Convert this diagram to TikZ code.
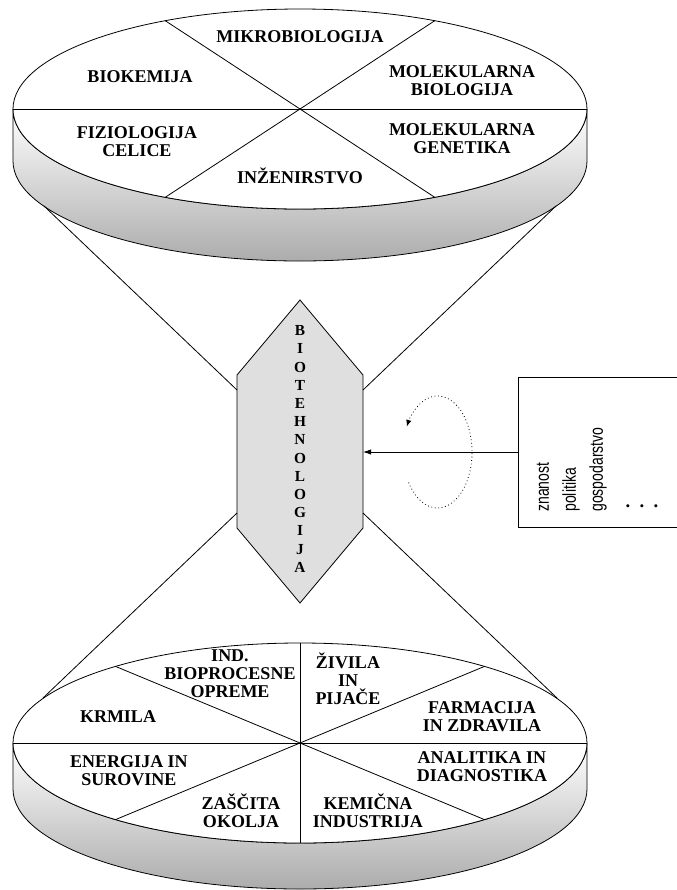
\documentclass[tikz,border=0pt]{standalone}
\usepackage{fontspec}
\setmainfont{Liberation Serif}
\newfontfamily\narrowsans[FakeStretch=0.75]{Liberation Sans}
\usepackage{tikz}
\usetikzlibrary{arrows.meta}

\tikzset{
  disclabel/.style={font=\fontsize{13.5}{13.5}\selectfont\bfseries,align=center,inner sep=0pt},
  sidetext/.style={font=\narrowsans\fontsize{14}{14}\selectfont,inner sep=0pt,rotate=90,anchor=west},
  rim/.style={draw,top color=white,bottom color=gray!65},
}

\begin{document}
\begin{tikzpicture}[x=0.75pt,y=-0.75pt,line width=0.6pt]
\useasboundingbox (0,0) rectangle (677,890);

% upper disc
\begin{scope}[shift={(300,109)}]
  \path[rim] (-287,0) -- (-287,52) arc[start angle=180,end angle=0,x radius=287,y radius=100]
    -- (287,0) arc[start angle=0,end angle=180,x radius=287,y radius=100] -- cycle;
  \filldraw[fill=white] (0,0) ellipse[x radius=287,y radius=100];
  \draw (-287,0) -- (287,0);
  \draw (62:287 and 100) -- (242:287 and 100);
  \draw (118:287 and 100) -- (298:287 and 100);
  \coordinate (upL) at (-256,97);
  \coordinate (upR) at (256,97);
\end{scope}
\node[disclabel] (mikro) at (300,37) {MIKROBIOLOGIJA};
\node[disclabel] (biokem) at (140,77) {BIOKEMIJA};
\node[disclabel] (molbio) at (462,81) {MOLEKULARNA\\BIOLOGIJA};
\node[disclabel] (fiziol) at (137,142) {FIZIOLOGIJA\\CELICE};
\node[disclabel] (molgen) at (462,139) {MOLEKULARNA\\GENETIKA};
\node[disclabel] (inzen) at (300,176) {INŽENIRSTVO};

% lower disc
\begin{scope}[shift={(300,743)}]
  \path[rim] (-287,0) -- (-287,46) arc[start angle=180,end angle=0,x radius=287,y radius=100]
    -- (287,0) arc[start angle=0,end angle=180,x radius=287,y radius=100] -- cycle;
  \filldraw[fill=white] (0,0) ellipse[x radius=287,y radius=100];
  \draw (-287,0) -- (287,0);
  \draw (0,-100) -- (0,100);
  \draw (50:287 and 100) -- (230:287 and 100);
  \draw (130:287 and 100) -- (310:287 and 100);
  \coordinate (lowL) at (-257,-45);
  \coordinate (lowR) at (257,-45);
\end{scope}
\node[disclabel] (ind) at (230,674) {IND.\\BIOPROCESNE\\OPREME};
\node[disclabel] (zivila) at (348,679) {ŽIVILA\\IN\\PIJAČE};
\node[disclabel] (krmila) at (118,717) {KRMILA};
\node[disclabel] (farm) at (482,717) {FARMACIJA\\IN ZDRAVILA};
\node[disclabel] (energ) at (129,771) {ENERGIJA IN\\SUROVINE};
\node[disclabel] (anal) at (482,767) {ANALITIKA IN\\DIAGNOSTIKA};
\node[disclabel] (zasc) at (241,811) {ZAŠČITA\\OKOLJA};
\node[disclabel] (kemic) at (368,811) {KEMIČNA\\INDUSTRIJA};

% biotehnologija
\filldraw[fill=gray!25] (300,300) -- (363,375) -- (363,528) -- (300,603) -- (237,528) -- (237,375) -- cycle;
\node[font=\fontsize{11.5}{13.65}\selectfont\bfseries,align=center,inner sep=0pt] (bio) at (300,449)
  {B\\I\\O\\T\\E\\H\\N\\O\\L\\O\\G\\I\\J\\A};
\coordinate (hexUL) at (237,390);
\coordinate (hexUR) at (363,390);
\coordinate (hexLL) at (237,513);
\coordinate (hexLR) at (363,513);
\coordinate (hexE) at (363,452);
\draw (upL) -- (hexUL);
\draw (upR) -- (hexUR);
\draw (hexLL) -- (lowL);
\draw (hexLR) -- (lowR);

% influences
\coordinate (boxNW) at (518,377);
\coordinate (boxSE) at (680,527);
\coordinate (boxW) at (518,452);
\draw (boxNW) rectangle (boxSE);
\draw[-{Latex[length=6pt,width=4pt]}] (boxW) -- (hexE);
\draw[dotted,-{Latex[length=5pt,width=4pt]}] (408.6,482.5) arc[start angle=147,end angle=-153,x radius=34.5,y radius=56];
\node[sidetext] (znanost) at (543,512) {znanost};
\node[sidetext] (politika) at (571,512) {politika};
\node[sidetext] (gosp) at (598,512) {gospodarstvo};
\node[font=\fontsize{14}{14}\selectfont\bfseries,inner sep=0pt] (dots) at (642,506) {.\ \ .\ \ .};
\end{tikzpicture}
\end{document}
